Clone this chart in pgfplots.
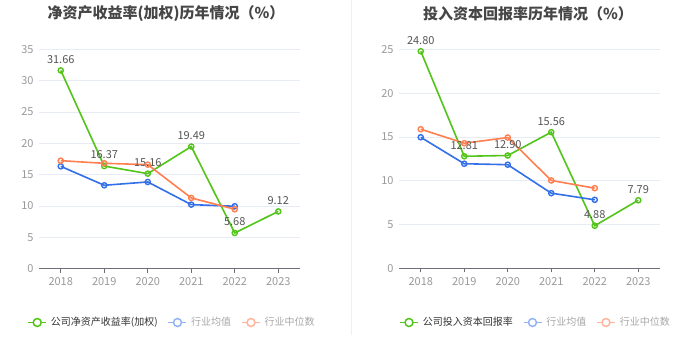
\documentclass[border=0pt]{standalone}
\usepackage{fontspec}
\setmainfont{Noto Sans CJK SC}
\usepackage{pgfplots}
\pgfplotsset{compat=1.18}
\definecolor{cgreen}{HTML}{52C41A}
\definecolor{cblue}{HTML}{3370E8}
\definecolor{corange}{HTML}{FF7F50}
\definecolor{lblue}{HTML}{93B3F4}
\definecolor{lorange}{HTML}{FFB59C}
\definecolor{gridc}{HTML}{E6EBF5}
\definecolor{axisc}{HTML}{6E7079}
\definecolor{tickc}{HTML}{9A9A9A}
\definecolor{labc}{HTML}{555555}
\definecolor{titc}{HTML}{464646}
\definecolor{legc}{HTML}{333333}
\definecolor{legl}{HTML}{A8A8A8}
\definecolor{divc}{HTML}{F0F0F0}
\pgfplotsset{
  mystyle/.style={
    scale only axis, width=261pt, height=219pt,
    xmin=-0.5, xmax=5.5, ymin=0,
    xtick={0,1,2,3,4,5}, xticklabels={2018,2019,2020,2021,2022,2023},
    separate axis lines,
    axis x line*=bottom, axis y line*=left,
    x axis line style={axisc, line width=1pt, -},
    y axis line style={draw=none},
    xtick style={axisc, line width=1pt},
    xtick align=outside, major tick length=4pt,
    ytick style={draw=none},
    ymajorgrids, grid style={gridc, line width=0.8pt},
    tick label style={font=\fontsize{11}{13}\selectfont, text=tickc},
    /pgf/number format/assume math mode=true,
    yticklabel style={xshift=-2pt},
    xticklabel style={yshift=-1pt},
    clip=false,
    legend columns=3,
    legend style={draw=none, fill=none, font=\fontsize{10}{12}\selectfont,
      /tikz/every odd column/.append style={column sep=2pt},
      /tikz/every even column/.append style={column sep=8pt},
      inner sep=0pt, row sep=0pt},
    legend cell align=left,
  },
  gline/.style={cgreen, line width=1.6pt, mark=o, mark size=2.6pt,
    mark options={fill=white, line width=1.4pt},
    nodes near coords, point meta=y,
    nodes near coords style={font=\fontsize{11}{13}\selectfont, text=labc, anchor=south, yshift=3pt,
      /pgf/number format/fixed, /pgf/number format/fixed zerofill, /pgf/number format/precision=2,
      /pgf/number format/assume math mode=true},
    legend image code/.code={\draw[cgreen, line width=1.5pt] (0pt,0pt)--(18pt,0pt);
      \draw[cgreen, line width=1.5pt, fill=white] (9pt,0pt) circle (4pt);}},
  bline/.style={cblue, line width=1.6pt, mark=o, mark size=2.6pt,
    mark options={fill=white, line width=1.4pt},
    legend image code/.code={\draw[lblue, line width=1.5pt] (0pt,0pt)--(18pt,0pt);
      \draw[lblue, line width=1.5pt, fill=white] (9pt,0pt) circle (4pt);}},
  oline/.style={corange, line width=1.6pt, mark=o, mark size=2.6pt,
    mark options={fill=white, line width=1.4pt},
    legend image code/.code={\draw[lorange, line width=1.5pt] (0pt,0pt)--(18pt,0pt);
      \draw[lorange, line width=1.5pt, fill=white] (9pt,0pt) circle (4pt);}},
}
\begin{document}
\begin{tikzpicture}[x=1pt,y=1pt]
\useasboundingbox (0,0) rectangle (699,359);
\fill[white] (0,0) rectangle (699,359);
\draw[divc, line width=1.5pt] (351.5,359) -- (351.5,24);
\node[font=\fontsize{15}{18}\selectfont\bfseries, text=titc] at (166,345) {净资产收益率(加权)历年情况（\%）};
\node[font=\fontsize{15}{18}\selectfont\bfseries, text=titc] at (528,345) {投入资本回报率历年情况（\%）};
\begin{axis}[mystyle, at={(39pt,90.5pt)}, anchor=south west,
  ymax=35, ytick={0,5,10,15,20,25,30,35},
  legend style={at={(axis description cs:0.51,-0.2466)}, anchor=center}]
\addplot[gline] coordinates {(0,31.66) (1,16.37) (2,15.16) (3,19.49) (4,5.68) (5,9.12)};
\addlegendentry{\textcolor{legc}{公司净资产收益率(加权)}}
\addplot[bline] coordinates {(0,16.33) (1,13.30) (2,13.83) (3,10.21) (4,9.95)};
\addlegendentry{\textcolor{legl}{行业均值}}
\addplot[oline] coordinates {(0,17.23) (1,16.81) (2,16.60) (3,11.28) (4,9.47)};
\addlegendentry{\textcolor{legl}{行业中位数}}
\end{axis}
\begin{axis}[mystyle, at={(399pt,90.5pt)}, anchor=south west,
  ymax=25, ytick={0,5,10,15,20,25},
  legend style={at={(axis description cs:0.523,-0.2466)}, anchor=center}]
\addplot[gline] coordinates {(0,24.80) (1,12.81) (2,12.90) (3,15.56) (4,4.88) (5,7.79)};
\addlegendentry{\textcolor{legc}{公司投入资本回报率}}
\addplot[bline] coordinates {(0,14.98) (1,11.96) (2,11.85) (3,8.60) (4,7.84)};
\addlegendentry{\textcolor{legl}{行业均值}}
\addplot[oline] coordinates {(0,15.90) (1,14.30) (2,14.95) (3,10.05) (4,9.17)};
\addlegendentry{\textcolor{legl}{行业中位数}}
\end{axis}
\end{tikzpicture}
\end{document}
